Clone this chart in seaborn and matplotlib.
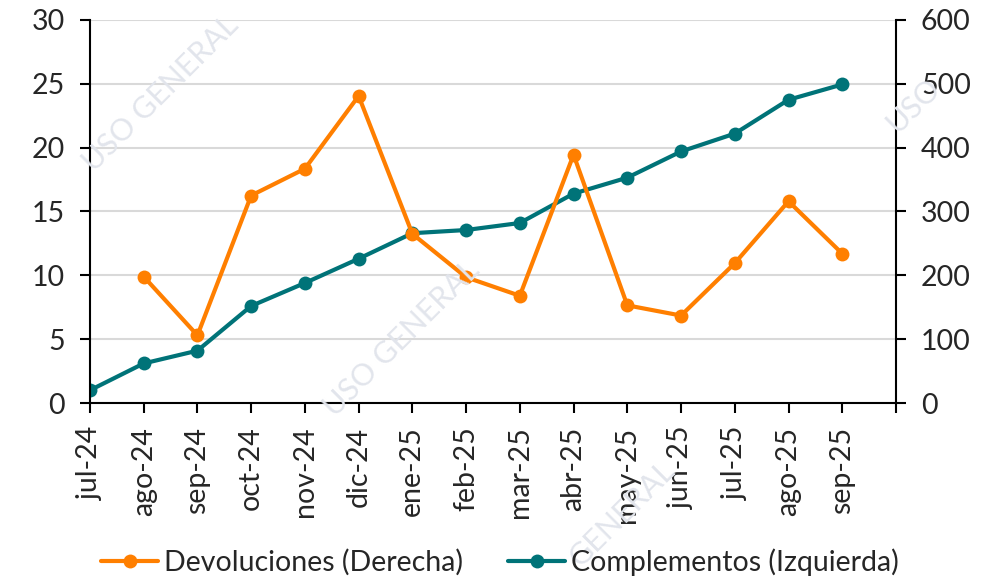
import numpy as np
import pandas as pd
import matplotlib
matplotlib.use("Agg")
import matplotlib.pyplot as plt
import seaborn as sns

# ---- data ----
months = ["jul-24", "ago-24", "sep-24", "oct-24", "nov-24", "dic-24", "ene-25",
          "feb-25", "mar-25", "abr-25", "may-25", "jun-25", "jul-25", "ago-25", "sep-25"]
complementos = [1.0, 3.1, 4.1, 7.6, 9.4, 11.3, 13.3, 13.55, 14.1, 16.4, 17.65, 19.7, 21.1, 23.75, 24.95]
devoluciones = [np.nan, 198, 106, 325, 367, 481, 265, 197, 168, 389, 153, 137, 219, 316, 234]

label_dev = "Devoluciones (Derecha)"
label_com = "Complementos (Izquierda)"

orange = "#FF7F00"
teal = "#007378"

df = pd.DataFrame({"pos": np.arange(len(months)), "mes": months,
                   "Complementos": complementos, "Devoluciones": devoluciones})

# ---- style ----
sns.set_theme(style="white")
plt.rcParams["font.family"] = ["Lato", "DejaVu Sans"]
fs = 20.5

fig = plt.figure(figsize=(10.04, 5.84), dpi=100)
ax = fig.add_axes([0.0896, 0.3099, 0.8028, 0.6559])
ax2 = ax.twinx()

# watermark, drawn faintly behind everything
for (x, y, s) in [(0.16, 0.84, "USO GENERAL"), (0.40, 0.42, "USO GENERAL"),
                  (0.91, 0.82, "USO"), (0.62, 0.12, "GENERAL")]:
    fig.text(x, y, s, rotation=45, fontsize=22, color="#E2E5EC",
             ha="center", va="center", zorder=0)

sns.lineplot(data=df, x="pos", y="Complementos", ax=ax, color=teal, lw=3,
             marker="o", markersize=10, markeredgewidth=0, label=label_com, legend=False)
sns.lineplot(data=df.dropna(), x="pos", y="Devoluciones", ax=ax2, color=orange, lw=3,
             marker="o", markersize=10, markeredgewidth=0, label=label_dev, legend=False)

ax.set_ylim(0, 30)
ax.set_yticks(range(0, 31, 5))
ax2.set_ylim(0, 600)
ax2.set_yticks(range(0, 601, 100))
ax.set_xlim(0, len(months))
ax.set_xticks(range(len(months) + 1))
ax.set_xticklabels(months + [""], rotation=90)

ax.set_xlabel("")
ax.set_ylabel("")
ax2.set_ylabel("")

ax.yaxis.grid(True, color="#D9D9D9", lw=1.5)
ax.set_axisbelow(True)
for a in (ax, ax2):
    a.patch.set_visible(False)
    a.spines["top"].set_visible(False)
    for side in ("left", "right", "bottom"):
        a.spines[side].set_color("black")
        a.spines[side].set_linewidth(1.5)
ax.spines["right"].set_visible(False)
ax2.spines["left"].set_visible(False)
ax2.spines["bottom"].set_visible(False)

ax.tick_params(axis="y", direction="out", length=7, width=1.5, color="black",
               labelsize=fs, pad=11, left=True)
ax.tick_params(axis="x", direction="out", length=7, width=1.5, color="black",
               labelsize=fs, pad=10, bottom=True)
ax2.tick_params(axis="y", direction="out", length=7, width=1.5, color="black",
                labelsize=fs, pad=11, right=True)

# legend below the chart
h1, l1 = ax2.get_legend_handles_labels()
h2, l2 = ax.get_legend_handles_labels()
fig.legend(h1 + h2, l1 + l2, loc="lower center", bbox_to_anchor=(0.498, -0.03),
           ncol=2, frameon=False, fontsize=fs, handlelength=2.0,
           handletextpad=0.2, columnspacing=1.6)

fig.savefig("out.png", dpi=100)
